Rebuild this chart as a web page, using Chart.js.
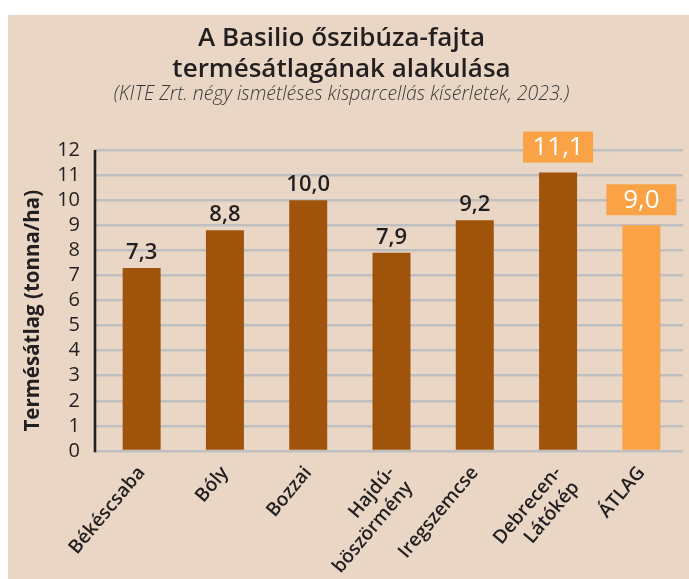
<!DOCTYPE html>
<html><head><meta charset="utf-8">
<script src="https://cdn.jsdelivr.net/npm/chart.js@4"></script>
<style>html,body{margin:0;padding:0;background:#fff;overflow:hidden}#wrap{width:689px;height:579px}</style>
</head><body><div id="wrap"><canvas id="c" width="689" height="579"></canvas></div>
<script>
const categories = ['Békéscsaba', 'Bóly', 'Bozzai', ['Hajdú-', 'böszörmény'], 'Iregszemcse', ['Debrecen-', 'Látókép'], 'ÁTLAG'];
const yields = [7.3, 8.8, 10.0, 7.9, 9.2, 11.1, 9.0];
const valueLabels = ['7,3', '8,8', '10,0', '7,9', '9,2', '11,1', '9,0'];
const boxedLabels = [false, false, false, false, false, true, true];
const isAverage = [false, false, false, false, false, false, true];
const yTickLabels = ['0', '1', '2', '3', '4', '5', '6', '7', '8', '9', '10', '11', '12'];

const BROWN = '#a0530a', ORANGE = '#f9a246', BEIGE = '#e9d6c4', INK = '#231f20';
const FONT = "'Open Sans', 'Noto Sans', sans-serif";

const bgPlugin = {
  id: 'bg',
  beforeDraw(chart) {
    const ctx = chart.ctx;
    ctx.save();
    ctx.fillStyle = '#ffffff';
    ctx.fillRect(0, 0, chart.width, chart.height);
    ctx.fillStyle = BEIGE;
    ctx.fillRect(8, 15, chart.width - 8, chart.height - 15);
    ctx.restore();
  }
};

const axisLinePlugin = {
  id: 'axisLine',
  beforeDatasetsDraw(chart) {
    const {ctx, chartArea} = chart;
    ctx.save();
    ctx.strokeStyle = INK;
    ctx.lineWidth = 2.6;
    ctx.beginPath();
    ctx.moveTo(chartArea.left - 5, chartArea.top);
    ctx.lineTo(chartArea.left - 5, chartArea.bottom + 1.3);
    ctx.stroke();
    ctx.restore();
  }
};

const labelPlugin = {
  id: 'valueLabels',
  afterDatasetsDraw(chart) {
    const ctx = chart.ctx;
    const meta = chart.getDatasetMeta(0);
    ctx.save();
    meta.data.forEach((bar, i) => {
      const txt = valueLabels[i];
      if (boxedLabels[i]) {
        ctx.font = `500 26px ${FONT}`;
        const w = Math.max(ctx.measureText(txt).width + 18, 70);
        const h = 31;
        const bottom = bar.y - 10;
        ctx.fillStyle = ORANGE;
        ctx.fillRect(bar.x - w / 2, bottom - h, w, h);
        ctx.fillStyle = '#ffffff';
        ctx.textAlign = 'center';
        ctx.textBaseline = 'middle';
        ctx.fillText(txt, bar.x, bottom - h / 2 + 1);
      } else {
        ctx.font = `600 22px ${FONT}`;
        ctx.fillStyle = INK;
        ctx.textAlign = 'center';
        ctx.textBaseline = 'alphabetic';
        ctx.fillText(txt, bar.x, bar.y - 9);
      }
    });
    ctx.restore();
  }
};

new Chart(document.getElementById('c'), {
  type: 'bar',
  data: {
    labels: categories,
    datasets: [{
      data: yields,
      backgroundColor: isAverage.map(a => a ? ORANGE : BROWN),
      borderWidth: 0,
      barPercentage: 0.456,
      categoryPercentage: 1.0
    }]
  },
  options: {
    responsive: false,
    animation: false,
    devicePixelRatio: 1,
    layout: {padding: {top: 15, left: 0, right: 6, bottom: 0}},
    plugins: {
      legend: {display: false},
      tooltip: {enabled: false},
      title: {
        display: true,
        text: ['A Basilio őszibúza-fajta', 'termésátlagának alakulása'],
        color: INK,
        font: {family: FONT, size: 26, weight: 600, lineHeight: '31px'},
        padding: {top: 8, bottom: -3}
      },
      subtitle: {
        display: true,
        text: '(KITE Zrt. négy ismétléses kisparcellás kísérletek, 2023.)',
        color: '#3a3a3a',
        font: {family: FONT, size: 19.5, weight: 300, style: 'italic', lineHeight: '18px'},
        padding: {top: 3, bottom: 47}
      }
    },
    scales: {
      x: {
        afterFit(scale) { scale.height = 128; },
        grid: {display: false, drawTicks: false},
        border: {display: false},
        ticks: {
          color: INK,
          font: {family: FONT, size: 19, weight: 600, lineHeight: '23px'},
          minRotation: 50,
          maxRotation: 50,
          padding: 11,
          autoSkip: false
        }
      },
      y: {
        min: 0,
        max: 12,
        afterFit(scale) { scale.width = 100; },
        border: {display: false},
        grid: {color: '#bfbfc1', lineWidth: 2.6, drawTicks: true, tickLength: 5},
        ticks: {
          stepSize: 1,
          autoSkip: false,
          color: INK,
          padding: 15,
          font: {family: FONT, size: 20, weight: 500},
          callback: (v) => yTickLabels[v]
        },
        title: {
          display: true,
          text: 'Termésátlag (tonna/ha)\u2002\u2002',
          color: INK,
          font: {family: FONT, size: 20.5, weight: 'bold', lineHeight: 1.2},
          padding: {top: 21, bottom: 0}
        }
      }
    }
  },
  plugins: [bgPlugin, axisLinePlugin, labelPlugin]
});
</script></body></html>
